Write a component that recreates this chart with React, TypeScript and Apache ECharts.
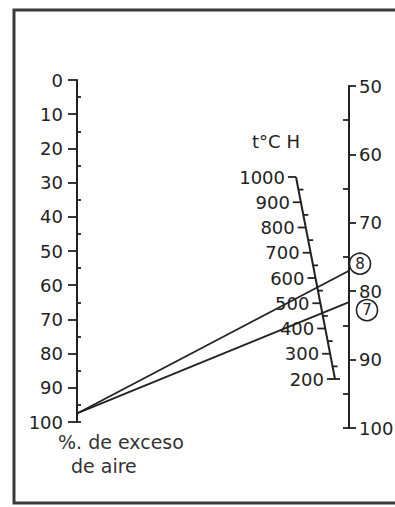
import React, { useEffect, useRef } from 'react';
import * as echarts from 'echarts';

// ---- data ----
const EXCESS_AIR_MIN = 0;
const EXCESS_AIR_MAX = 100;
const EXCESS_AIR_STEP = 10;
const EXCESS_AIR_MINOR = [5, 15, 25, 35, 45, 55, 65, 75, 85, 95, 100];

const RIGHT_MIN = 50;
const RIGHT_MAX = 100;
const RIGHT_STEP = 10;
const RIGHT_MINOR = [55, 65, 75, 85, 95, 100];

const TEMP_MAJOR = [1000, 900, 800, 700, 600, 500, 400, 300, 200];
const TEMP_MINOR = [950, 850, 750, 650, 550, 450, 350, 250, 200];
const TEMP_TITLE = 't°C H';

const LINE_LABELS = ['8', '7'];
const LINE_LEFT = [97.5, 97.5];
const LINE_RIGHT = [77, 81.6];

const LEFT_TITLE_1 = '%. de exceso';
const LEFT_TITLE_2 = 'de aire';

// ---- layout ----
const FONT = 'DejaVu Sans, sans-serif';
const INK = '#222';
const TEMP_AXIS = { x1: 296, y1: 177, x2: 335, y2: 379 };
const MARK_OFFSETS = [[11, -7], [18, 8]];

function tempPos(t: number): [number, number] {
  const top = TEMP_MAJOR[0];
  const bottom = TEMP_MAJOR[TEMP_MAJOR.length - 1];
  const f = (top - t) / (top - bottom);
  return [
    TEMP_AXIS.x1 + f * (TEMP_AXIS.x2 - TEMP_AXIS.x1),
    TEMP_AXIS.y1 + f * (TEMP_AXIS.y2 - TEMP_AXIS.y1),
  ];
}

function buildOption(lineSeries: any[]) {
  return {
    animation: false,
    backgroundColor: '#fff',
    grid: [
      { left: 77, top: 80, width: 272, height: 342 },
      { left: 349, top: 86, width: 1, height: 342 },
    ],
    xAxis: [
      { type: 'value', gridIndex: 0, min: 0, max: 1, show: false },
      { type: 'value', gridIndex: 1, min: 0, max: 1, show: false },
    ],
    yAxis: [
      {
        type: 'value', gridIndex: 0, position: 'left', inverse: true,
        min: EXCESS_AIR_MIN, max: EXCESS_AIR_MAX, interval: EXCESS_AIR_STEP,
        axisLine: { show: true, lineStyle: { color: INK, width: 2 } },
        axisTick: { show: true, inside: false, length: 9, lineStyle: { color: INK, width: 1.8 } },
        axisLabel: { show: true, margin: 14, color: INK, fontSize: 18, fontFamily: FONT },
        splitLine: { show: false },
      },
      {
        type: 'value', gridIndex: 0, position: 'left', inverse: true,
        min: EXCESS_AIR_MIN, max: EXCESS_AIR_MAX, interval: 5,
        axisLine: { show: false },
        axisTick: { show: true, inside: true, length: 4, customValues: EXCESS_AIR_MINOR, lineStyle: { color: INK, width: 1.8 } },
        axisLabel: { show: false },
        splitLine: { show: false },
      },
      {
        type: 'value', gridIndex: 1, position: 'left', inverse: true,
        min: RIGHT_MIN, max: RIGHT_MAX, interval: RIGHT_STEP,
        axisLine: { show: true, lineStyle: { color: INK, width: 2 } },
        axisTick: { show: true, inside: true, length: 7, lineStyle: { color: INK, width: 1.8 } },
        axisLabel: { show: true, inside: true, margin: 10, color: INK, fontSize: 18, fontFamily: FONT },
        splitLine: { show: false },
      },
      {
        type: 'value', gridIndex: 1, position: 'left', inverse: true,
        min: RIGHT_MIN, max: RIGHT_MAX, interval: 5,
        axisLine: { show: false },
        axisTick: { show: true, inside: false, length: 6, customValues: RIGHT_MINOR, lineStyle: { color: INK, width: 1.8 } },
        axisLabel: { show: false },
        splitLine: { show: false },
      },
    ],
    graphic: [
      {
        type: 'rect', silent: true,
        shape: { x: 14, y: 10, width: 400, height: 493 },
        style: { fill: 'none', stroke: '#3a3a3a', lineWidth: 3 },
      },
      {
        type: 'text', x: 276, y: 141,
        style: { text: TEMP_TITLE, align: 'center', verticalAlign: 'middle', fill: INK, fontSize: 18, fontFamily: FONT },
      },
      {
        type: 'text', x: 58, y: 442,
        style: { text: LEFT_TITLE_1, align: 'left', verticalAlign: 'middle', fill: '#333', fontSize: 19, fontFamily: FONT },
      },
      {
        type: 'text', x: 71, y: 466,
        style: { text: LEFT_TITLE_2, align: 'left', verticalAlign: 'middle', fill: '#333', fontSize: 19, fontFamily: FONT },
      },
    ],
    series: [
      {
        type: 'custom', coordinateSystem: 'none', silent: true,
        data: [[TEMP_MAJOR[0], TEMP_MAJOR[TEMP_MAJOR.length - 1]]],
        renderItem: (_p: any, api: any) => {
          const a = tempPos(api.value(0));
          const b = tempPos(api.value(1));
          return {
            type: 'line',
            shape: { x1: a[0], y1: a[1], x2: b[0], y2: b[1] },
            style: { stroke: INK, lineWidth: 2 },
          };
        },
      },
      {
        type: 'custom', coordinateSystem: 'none', silent: true,
        data: TEMP_MAJOR.map((v) => [v]),
        renderItem: (_p: any, api: any) => {
          const v = api.value(0);
          const p = tempPos(v);
          return {
            type: 'group',
            children: [
              { type: 'line', shape: { x1: p[0] - 8, y1: p[1], x2: p[0], y2: p[1] }, style: { stroke: INK, lineWidth: 1.8 } },
              { type: 'text', style: { text: String(v), x: p[0] - 11, y: p[1], align: 'right', verticalAlign: 'middle', fill: INK, fontSize: 18, fontFamily: FONT } },
            ],
          };
        },
      },
      {
        type: 'custom', coordinateSystem: 'none', silent: true,
        data: TEMP_MINOR.map((v) => [v]),
        renderItem: (_p: any, api: any) => {
          const p = tempPos(api.value(0));
          return { type: 'line', shape: { x1: p[0], y1: p[1], x2: p[0] + 5, y2: p[1] }, style: { stroke: INK, lineWidth: 1.8 } };
        },
      },
      ...lineSeries,
    ],
  };
}

export default function App() {
  const ref = useRef<HTMLDivElement>(null);
  useEffect(() => {
    if (!ref.current) return;
    const chart = echarts.init(ref.current, null, { renderer: 'svg' });
    chart.setOption(buildOption([]));
    const lineSeries = LINE_LABELS.map((lab, i) => {
      const rightPx = chart.convertToPixel({ yAxisIndex: 2 } as any, LINE_RIGHT[i]) as any;
      const yInLeft = chart.convertFromPixel({ yAxisIndex: 0 } as any, rightPx) as any;
      return {
        type: 'line', xAxisIndex: 0, yAxisIndex: 0, silent: true,
        symbol: 'none',
        lineStyle: { color: INK, width: 1.8 },
        data: [[0, LINE_LEFT[i]], [1, yInLeft]],
        markPoint: {
          silent: true,
          symbol: 'circle', symbolSize: 21,
          itemStyle: { color: 'rgba(0,0,0,0)', borderColor: INK, borderWidth: 1.6 },
          label: { show: true, position: 'inside', formatter: lab, color: INK, fontSize: 15, fontFamily: FONT },
          data: [{ coord: [1, yInLeft], symbolOffset: MARK_OFFSETS[i] }],
        },
      };
    });
    chart.setOption(buildOption(lineSeries), true);
    return () => chart.dispose();
  }, []);
  return <div ref={ref} style={{ position: 'fixed', left: 0, top: 0, width: 395, height: 507 }} />;
}
